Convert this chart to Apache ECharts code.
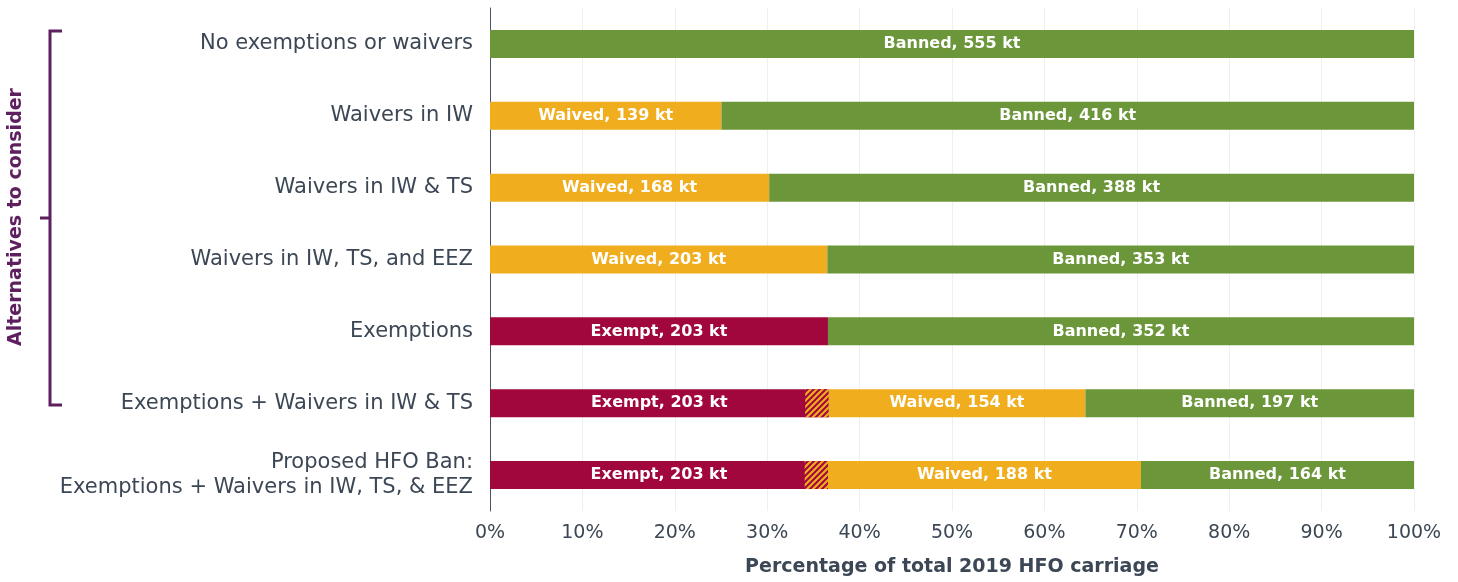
<!DOCTYPE html>
<html>
<head>
<meta charset="utf-8">
<script src="https://cdn.jsdelivr.net/npm/echarts@6/dist/echarts.min.js"></script>
<style>
html,body{margin:0;padding:0;background:#fff;}
#chart{width:1458px;height:582px;}
</style>
</head>
<body>
<div id="chart"></div>
<script>
// ---- Data (kt of 2019 HFO carriage) ----
var categories = [
  'No exemptions or waivers',
  'Waivers in IW',
  'Waivers in IW & TS',
  'Waivers in IW, TS, and EEZ',
  'Exemptions',
  'Exemptions + Waivers in IW & TS',
  'Proposed HFO Ban:\nExemptions + Waivers in IW, TS, & EEZ'
];
var exemptKt  = [0, 0, 0, 0, 203, 203, 203];
var waivedKt  = [0, 139, 168, 203, 0, 154, 188];
var bannedKt  = [555, 416, 388, 353, 352, 197, 164];
// part of the exempt carriage that would also be waived (hatched)
var overlapKt = [0, 0, 0, 0, 0, 14, 14];
var xTicks = ['0%','10%','20%','30%','40%','50%','60%','70%','80%','90%','100%'];

var totals = categories.map(function(_, i){ return exemptKt[i] + waivedKt[i] + bannedKt[i]; });
function pct(arr){ return arr.map(function(v, i){ return v / totals[i] * 100; }); }
var exemptBaseKt = exemptKt.map(function(v, i){ return v - overlapKt[i]; });

var C_EX = '#A1063D', C_WV = '#F0AE1F', C_BN = '#6B963A';
var FONT = 'DejaVu Sans';
var TXT = '#3C4755';

// hatch pattern
var pc = document.createElement('canvas');
pc.width = 6; pc.height = 6;
var g = pc.getContext('2d');
g.fillStyle = C_EX; g.fillRect(0,0,6,6);
g.strokeStyle = C_WV; g.lineWidth = 2.2;
g.beginPath();
g.moveTo(-1,7); g.lineTo(7,-1);
g.moveTo(-4,4); g.lineTo(4,-4);
g.moveTo(2,10); g.lineTo(10,2);
g.stroke();

function mkLabel(name, kt){
  return {
    show: true, position: 'inside', color: '#fff',
    fontFamily: FONT, fontSize: 16, fontWeight: 'bold',
    formatter: function(p){ var v = kt[p.dataIndex]; return v ? name + ', ' + v + ' kt' : ''; }
  };
}

var chart = echarts.init(document.getElementById('chart'), null, {renderer:'canvas'});
chart.setOption({
  animation: false,
  grid: { left: 490, right: 44, top: 8, bottom: 71, containLabel: false, outerBoundsMode: 'none' },
  xAxis: {
    type: 'value', min: 0, max: 100, interval: 10,
    axisLine: { show: false }, axisTick: { show: false },
    splitLine: { show: true, lineStyle: { color: '#efefef', width: 1 } },
    axisLabel: {
      margin: 13, color: TXT, fontFamily: FONT, fontSize: 19,
      formatter: function(v){ return xTicks[Math.round(v/10)]; }
    },
    name: 'Percentage of total 2019 HFO carriage',
    nameLocation: 'middle', nameGap: 47,
    nameTextStyle: { color: TXT, fontFamily: FONT, fontSize: 19, fontWeight: 'bold' }
  },
  yAxis: {
    type: 'category', data: categories, inverse: true,
    axisLine: { show: true, lineStyle: { color: '#4A5563', width: 1 } },
    axisTick: { show: false },
    axisLabel: {
      margin: 17, color: TXT, fontFamily: FONT, fontSize: 21,
      lineHeight: 25, align: 'right'
    }
  },
  series: [
    { name: 'Exempt', type: 'bar', stack: 'm', barWidth: 28, data: pct(exemptKt),
      itemStyle: { color: C_EX }, label: mkLabel('Exempt', exemptKt) },
    { name: 'Waived', type: 'bar', stack: 'm', barWidth: 28, data: pct(waivedKt),
      itemStyle: { color: C_WV }, label: mkLabel('Waived', waivedKt) },
    { name: 'Banned', type: 'bar', stack: 'm', barWidth: 28, data: pct(bannedKt),
      itemStyle: { color: C_BN }, label: mkLabel('Banned', bannedKt) },
    { name: 'base', type: 'bar', stack: 'h', barWidth: 28, barGap: '-100%', data: pct(exemptBaseKt),
      itemStyle: { color: 'rgba(0,0,0,0)' }, silent: true },
    { name: 'Overlap', type: 'bar', stack: 'h', barWidth: 28, barGap: '-100%', data: pct(overlapKt),
      itemStyle: { color: { image: pc, repeat: 'repeat' } } }
  ],
  graphic: [
    { type: 'polyline', shape: { points: [[62,31],[50,31],[50,405],[62,405]] },
      style: { stroke: '#5E1F5F', lineWidth: 3, fill: null } },
    { type: 'line', shape: { x1: 40, y1: 218, x2: 50, y2: 218 },
      style: { stroke: '#5E1F5F', lineWidth: 3 } },
    { type: 'text', x: 16, y: 217, rotation: Math.PI/2,
      style: { text: 'Alternatives to consider', fill: '#5E1F5F', fontFamily: FONT,
        fontSize: 19, fontWeight: 'bold', align: 'center', verticalAlign: 'middle' } }
  ]
});
</script>
</body>
</html>
